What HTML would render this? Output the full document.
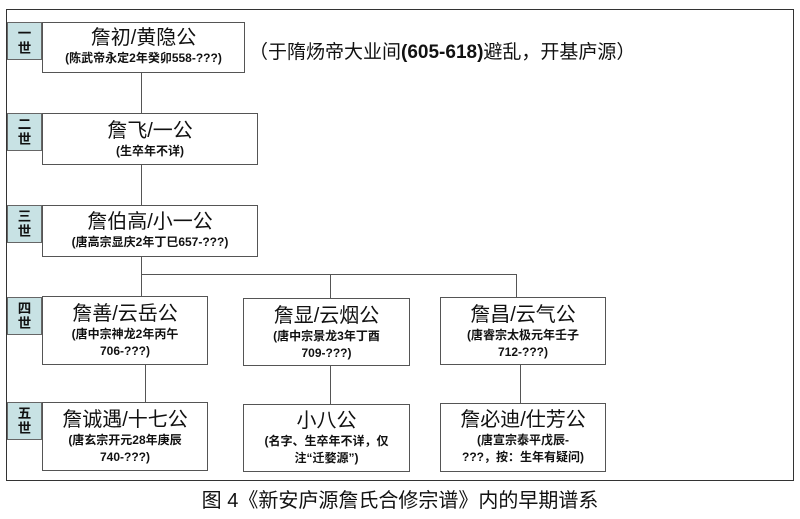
<!DOCTYPE html>
<html><head><meta charset="utf-8"><style>
html,body{margin:0;padding:0;background:#fff;}
body{width:800px;height:519px;position:relative;overflow:hidden;font-family:"Liberation Sans","Noto Sans CJK SC",sans-serif;color:#111;}
.a{position:absolute;box-sizing:border-box;}
.frame{left:6px;top:9px;width:788px;height:472px;border:1.5px solid #333;}
.lab{background:#c8e2e4;border:1px solid #666;left:7px;width:35px;height:38px;font-size:13.5px;font-weight:bold;line-height:15px;text-align:center;padding-top:3px;}
.box{border:1.5px solid #555;background:#fff;text-align:center;}
.n{font-size:20px;line-height:23px;}
.s{font-size:12px;font-weight:bold;line-height:17px;}
.v{width:1px;background:#555;}
.h{height:1px;background:#555;}
</style></head><body>
<div class="a frame"></div>

<div class="a lab" style="top:22px">一<br>世</div>
<div class="a box" style="left:42px;top:22px;width:203px;height:51px;padding-top:4px"><div class="n">詹初/黄隐公</div><div class="s">(陈武帝永定2年癸卯558-???)</div></div>
<div class="a" style="left:249px;top:37px;font-size:19px;white-space:nowrap">（于隋炀帝大业间<b>(605-618)</b>避乱，开基庐源）</div>

<div class="a v" style="left:141px;top:73px;height:40px"></div>
<div class="a lab" style="top:113px">二<br>世</div>
<div class="a box" style="left:42px;top:113px;width:216px;height:52px;padding-top:6px"><div class="n">詹飞/一公</div><div class="s">(生卒年不详)</div></div>

<div class="a v" style="left:141px;top:165px;height:40px"></div>
<div class="a lab" style="top:205px">三<br>世</div>
<div class="a box" style="left:42px;top:205px;width:216px;height:52px;padding-top:5px"><div class="n">詹伯高/小一公</div><div class="s">(唐高宗显庆2年丁巳657-???)</div></div>

<div class="a v" style="left:141px;top:257px;height:40px"></div>
<div class="a h" style="left:141px;top:274px;width:376px"></div>
<div class="a v" style="left:330px;top:274px;height:24px"></div>
<div class="a v" style="left:516px;top:274px;height:24px"></div>

<div class="a lab" style="top:297px">四<br>世</div>
<div class="a box" style="left:42px;top:296px;width:166px;height:69px;padding-top:6px"><div class="n">詹善/云岳公</div><div class="s">(唐中宗神龙2年丙午<br>706-???)</div></div>
<div class="a box" style="left:243px;top:298px;width:167px;height:68px;padding-top:6px"><div class="n">詹显/云烟公</div><div class="s">(唐中宗景龙3年丁酉<br>709-???)</div></div>
<div class="a box" style="left:440px;top:297px;width:166px;height:68px;padding-top:6px"><div class="n">詹昌/云气公</div><div class="s">(唐睿宗太极元年壬子<br>712-???)</div></div>

<div class="a v" style="left:145px;top:365px;height:38px"></div>
<div class="a v" style="left:330px;top:366px;height:38px"></div>
<div class="a v" style="left:520px;top:365px;height:38px"></div>

<div class="a lab" style="top:402px">五<br>世</div>
<div class="a box" style="left:42px;top:402px;width:166px;height:69px;padding-top:6px"><div class="n">詹诚遇/十七公</div><div class="s">(唐玄宗开元28年庚辰<br>740-???)</div></div>
<div class="a box" style="left:243px;top:404px;width:167px;height:68px;padding-top:5px"><div class="n">小八公</div><div class="s">(名字、生卒年不详，仅<br>注“迁婺源”)</div></div>
<div class="a box" style="left:440px;top:403px;width:166px;height:69px;padding-top:5px"><div class="n">詹必迪/仕芳公</div><div class="s">(唐宣宗泰平戊辰-<br>???，按：生年有疑问)</div></div>

<div class="a" style="left:0;width:800px;top:488px;text-align:center;font-size:20px;line-height:26px">图 4《新安庐源詹氏合修宗谱》内的早期谱系</div>
</body></html>
